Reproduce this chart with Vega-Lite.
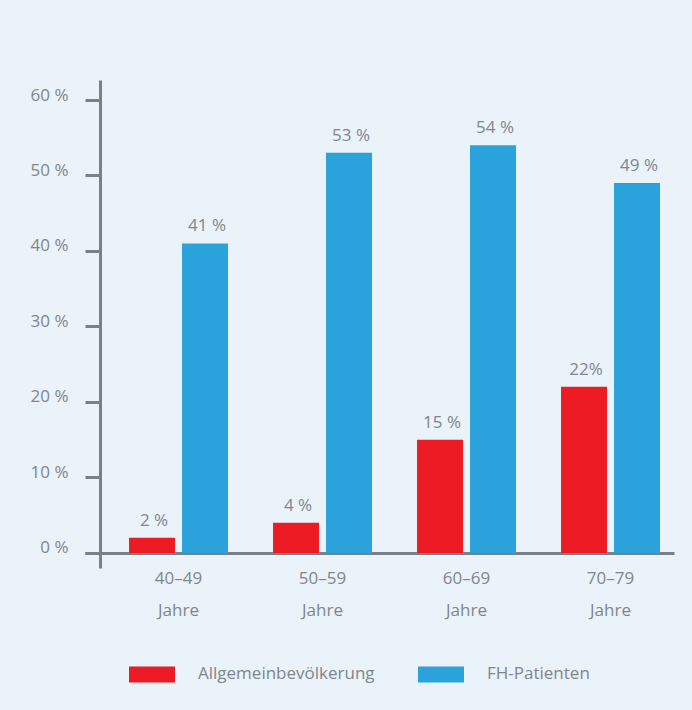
{
  "$schema": "https://vega.github.io/schema/vega-lite/v6.json",
  "autosize": "none",
  "width": 589,
  "height": 488,
  "padding": {"left": 85, "top": 80, "right": 18, "bottom": 142},
  "background": "#eaf2fa",
  "data": {
    "values": [
      {"age": "40–49", "group": "Allgemeinbevölkerung", "value": 2, "label": "2 %"},
      {"age": "40–49", "group": "FH-Patienten", "value": 41, "label": "41 %"},
      {"age": "50–59", "group": "Allgemeinbevölkerung", "value": 4, "label": "4 %"},
      {"age": "50–59", "group": "FH-Patienten", "value": 53, "label": "53 %"},
      {"age": "60–69", "group": "Allgemeinbevölkerung", "value": 15, "label": "15 %"},
      {"age": "60–69", "group": "FH-Patienten", "value": 54, "label": "54 %"},
      {"age": "70–79", "group": "Allgemeinbevölkerung", "value": 22, "label": "22%"},
      {"age": "70–79", "group": "FH-Patienten", "value": 49, "label": "49 %"}
    ]
  },
  "encoding": {
    "x": {
      "field": "age",
      "type": "nominal",
      "sort": null,
      "title": null,
      "scale": {"paddingInner": 0.3125, "paddingOuter": 0.2014, "align": 0.759},
      "axis": {
        "offset": -15,
        "domainWidth": 3,
        "domainColor": "#7a8087",
        "ticks": false,
        "labelAngle": 0,
        "labelPadding": 17,
        "labelLineHeight": 32,
        "labelExpr": "[datum.label, 'Jahre']"
      }
    },
    "xOffset": {
      "field": "group",
      "type": "nominal",
      "scale": {"paddingInner": 0.132, "paddingOuter": 0}
    },
    "y": {
      "field": "value",
      "type": "quantitative",
      "stack": null,
      "title": null,
      "scale": {"domain": [-2, 62.65], "nice": false, "zero": false},
      "axis": {
        "offset": -15,
        "values": [0, 10, 20, 30, 40, 50, 60],
        "grid": false,
        "domainWidth": 3,
        "domainColor": "#7a8087",
        "tickColor": "#7a8087",
        "tickWidth": 3,
        "tickSize": 15,
        "labelPadding": 17,
        "labelBaseline": "alphabetic",
        "labelExpr": "datum.value + ' %'"
      }
    }
  },
  "layer": [
    {
      "mark": {"type": "bar"},
      "encoding": {
        "color": {
          "field": "group",
          "type": "nominal",
          "title": null,
          "scale": {"domain": ["Allgemeinbevölkerung", "FH-Patienten"], "range": ["#ed1c24", "#2aa3dc"]},
          "legend": {
            "orient": "none",
            "direction": "horizontal",
            "legendX": 44,
            "legendY": 571,
            "symbolType": "M-1,-0.348H1V0.348H-1Z",
            "symbolSize": 2116,
            "symbolStrokeWidth": 0,
            "symbolOpacity": 1,
            "labelOffset": 23,
            "columnPadding": 43,
            "labelLimit": 300
          }
        }
      }
    },
    {
      "mark": {"type": "text", "baseline": "bottom", "dy": -8, "dx": 2, "fontSize": 17},
      "encoding": {
        "text": {"field": "label"}
      }
    }
  ],
  "config": {
    "font": "Open Sans",
    "view": {"stroke": null},
    "text": {"color": "#80868d"},
    "axis": {"labelFont": "Open Sans", "labelFontSize": 17, "labelColor": "#80868d"},
    "legend": {"labelFont": "Open Sans", "labelFontSize": 17, "labelColor": "#80868d"}
  }
}
